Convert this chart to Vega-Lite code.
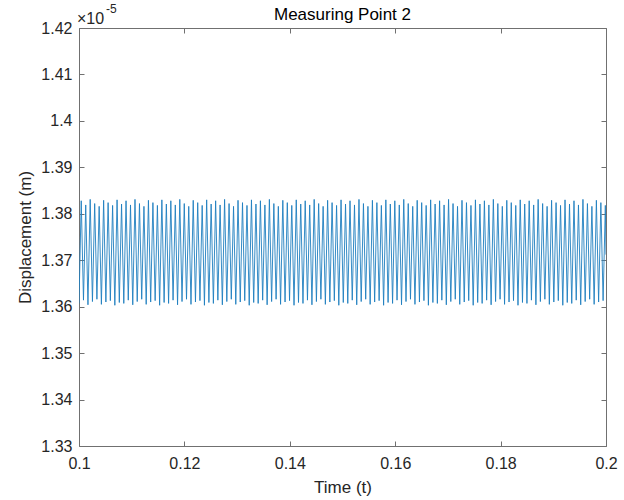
{
"$schema": "https://vega.github.io/schema/vega-lite/v6.json",
"width": 527, "height": 418,
"autosize": "none",
"padding": {"left": 79, "top": 28, "right": 18, "bottom": 54},
"background": "white",
"config": {"view": {"stroke": null}, "font": "Liberation Sans",
  "axis": {"grid": false, "domainColor": "#707070", "tickColor": "#707070", "labelColor": "#262626", "titleColor": "#262626", "labelFont": "Liberation Sans", "titleFont": "Liberation Sans", "labelFontSize": 16, "titleFontSize": 17, "titleFontWeight": "normal", "tickSize": -5, "domainWidth": 1}},
"title": {"text": "Measuring Point 2", "fontSize": 17, "fontWeight": "normal", "color": "#000000", "font": "Liberation Sans", "offset": -21, "anchor": "middle"},
"datasets": {"w": [
{"t":0.1,"y":1.3607},{"t":0.100425,"y":1.3828},
{"t":0.10085,"y":1.3614},{"t":0.101275,"y":1.3819},
{"t":0.1017,"y":1.3604},{"t":0.102125,"y":1.3831},
{"t":0.10255,"y":1.3611},{"t":0.102975,"y":1.3822},
{"t":0.1034,"y":1.3616},{"t":0.103825,"y":1.3816},
{"t":0.10425,"y":1.3605},{"t":0.104675,"y":1.3829},
{"t":0.1051,"y":1.361},{"t":0.105525,"y":1.3824},
{"t":0.10595,"y":1.3613},{"t":0.106375,"y":1.3818},
{"t":0.1068,"y":1.3603},{"t":0.107225,"y":1.383},
{"t":0.10765,"y":1.3609},{"t":0.108075,"y":1.3821},
{"t":0.1085,"y":1.3607},{"t":0.108925,"y":1.3828},
{"t":0.10935,"y":1.3614},{"t":0.109775,"y":1.3819},
{"t":0.1102,"y":1.3604},{"t":0.110625,"y":1.3831},
{"t":0.11105,"y":1.3611},{"t":0.111475,"y":1.3822},
{"t":0.1119,"y":1.3616},{"t":0.112325,"y":1.3816},
{"t":0.11275,"y":1.3605},{"t":0.113175,"y":1.3829},
{"t":0.1136,"y":1.361},{"t":0.114025,"y":1.3824},
{"t":0.11445,"y":1.3613},{"t":0.114875,"y":1.3818},
{"t":0.1153,"y":1.3603},{"t":0.115725,"y":1.383},
{"t":0.11615,"y":1.3609},{"t":0.116575,"y":1.3821},
{"t":0.117,"y":1.3607},{"t":0.117425,"y":1.3828},
{"t":0.11785,"y":1.3614},{"t":0.118275,"y":1.3819},
{"t":0.1187,"y":1.3604},{"t":0.119125,"y":1.3831},
{"t":0.11955,"y":1.3611},{"t":0.119975,"y":1.3822},
{"t":0.1204,"y":1.3616},{"t":0.120825,"y":1.3816},
{"t":0.12125,"y":1.3605},{"t":0.121675,"y":1.3829},
{"t":0.1221,"y":1.361},{"t":0.122525,"y":1.3824},
{"t":0.12295,"y":1.3613},{"t":0.123375,"y":1.3818},
{"t":0.1238,"y":1.3603},{"t":0.124225,"y":1.383},
{"t":0.12465,"y":1.3609},{"t":0.125075,"y":1.3821},
{"t":0.1255,"y":1.3607},{"t":0.125925,"y":1.3828},
{"t":0.12635,"y":1.3614},{"t":0.126775,"y":1.3819},
{"t":0.1272,"y":1.3604},{"t":0.127625,"y":1.3831},
{"t":0.12805,"y":1.3611},{"t":0.128475,"y":1.3822},
{"t":0.1289,"y":1.3616},{"t":0.129325,"y":1.3816},
{"t":0.12975,"y":1.3605},{"t":0.130175,"y":1.3829},
{"t":0.1306,"y":1.361},{"t":0.131025,"y":1.3824},
{"t":0.13145,"y":1.3613},{"t":0.131875,"y":1.3818},
{"t":0.1323,"y":1.3603},{"t":0.132725,"y":1.383},
{"t":0.13315,"y":1.3609},{"t":0.133575,"y":1.3821},
{"t":0.134,"y":1.3607},{"t":0.134425,"y":1.3828},
{"t":0.13485,"y":1.3614},{"t":0.135275,"y":1.3819},
{"t":0.1357,"y":1.3604},{"t":0.136125,"y":1.3831},
{"t":0.13655,"y":1.3611},{"t":0.136975,"y":1.3822},
{"t":0.1374,"y":1.3616},{"t":0.137825,"y":1.3816},
{"t":0.13825,"y":1.3605},{"t":0.138675,"y":1.3829},
{"t":0.1391,"y":1.361},{"t":0.139525,"y":1.3824},
{"t":0.13995,"y":1.3613},{"t":0.140375,"y":1.3818},
{"t":0.1408,"y":1.3603},{"t":0.141225,"y":1.383},
{"t":0.14165,"y":1.3609},{"t":0.142075,"y":1.3821},
{"t":0.1425,"y":1.3607},{"t":0.142925,"y":1.3828},
{"t":0.14335,"y":1.3614},{"t":0.143775,"y":1.3819},
{"t":0.1442,"y":1.3604},{"t":0.144625,"y":1.3831},
{"t":0.14505,"y":1.3611},{"t":0.145475,"y":1.3822},
{"t":0.1459,"y":1.3616},{"t":0.146325,"y":1.3816},
{"t":0.14675,"y":1.3605},{"t":0.147175,"y":1.3829},
{"t":0.1476,"y":1.361},{"t":0.148025,"y":1.3824},
{"t":0.14845,"y":1.3613},{"t":0.148875,"y":1.3818},
{"t":0.1493,"y":1.3603},{"t":0.149725,"y":1.383},
{"t":0.15015,"y":1.3609},{"t":0.150575,"y":1.3821},
{"t":0.151,"y":1.3607},{"t":0.151425,"y":1.3828},
{"t":0.15185,"y":1.3614},{"t":0.152275,"y":1.3819},
{"t":0.1527,"y":1.3604},{"t":0.153125,"y":1.3831},
{"t":0.15355,"y":1.3611},{"t":0.153975,"y":1.3822},
{"t":0.1544,"y":1.3616},{"t":0.154825,"y":1.3816},
{"t":0.15525,"y":1.3605},{"t":0.155675,"y":1.3829},
{"t":0.1561,"y":1.361},{"t":0.156525,"y":1.3824},
{"t":0.15695,"y":1.3613},{"t":0.157375,"y":1.3818},
{"t":0.1578,"y":1.3603},{"t":0.158225,"y":1.383},
{"t":0.15865,"y":1.3609},{"t":0.159075,"y":1.3821},
{"t":0.1595,"y":1.3607},{"t":0.159925,"y":1.3828},
{"t":0.16035,"y":1.3614},{"t":0.160775,"y":1.3819},
{"t":0.1612,"y":1.3604},{"t":0.161625,"y":1.3831},
{"t":0.16205,"y":1.3611},{"t":0.162475,"y":1.3822},
{"t":0.1629,"y":1.3616},{"t":0.163325,"y":1.3816},
{"t":0.16375,"y":1.3605},{"t":0.164175,"y":1.3829},
{"t":0.1646,"y":1.361},{"t":0.165025,"y":1.3824},
{"t":0.16545,"y":1.3613},{"t":0.165875,"y":1.3818},
{"t":0.1663,"y":1.3603},{"t":0.166725,"y":1.383},
{"t":0.16715,"y":1.3609},{"t":0.167575,"y":1.3821},
{"t":0.168,"y":1.3607},{"t":0.168425,"y":1.3828},
{"t":0.16885,"y":1.3614},{"t":0.169275,"y":1.3819},
{"t":0.1697,"y":1.3604},{"t":0.170125,"y":1.3831},
{"t":0.17055,"y":1.3611},{"t":0.170975,"y":1.3822},
{"t":0.1714,"y":1.3616},{"t":0.171825,"y":1.3816},
{"t":0.17225,"y":1.3605},{"t":0.172675,"y":1.3829},
{"t":0.1731,"y":1.361},{"t":0.173525,"y":1.3824},
{"t":0.17395,"y":1.3613},{"t":0.174375,"y":1.3818},
{"t":0.1748,"y":1.3603},{"t":0.175225,"y":1.383},
{"t":0.17565,"y":1.3609},{"t":0.176075,"y":1.3821},
{"t":0.1765,"y":1.3607},{"t":0.176925,"y":1.3828},
{"t":0.17735,"y":1.3614},{"t":0.177775,"y":1.3819},
{"t":0.1782,"y":1.3604},{"t":0.178625,"y":1.3831},
{"t":0.17905,"y":1.3611},{"t":0.179475,"y":1.3822},
{"t":0.1799,"y":1.3616},{"t":0.180325,"y":1.3816},
{"t":0.18075,"y":1.3605},{"t":0.181175,"y":1.3829},
{"t":0.1816,"y":1.361},{"t":0.182025,"y":1.3824},
{"t":0.18245,"y":1.3613},{"t":0.182875,"y":1.3818},
{"t":0.1833,"y":1.3603},{"t":0.183725,"y":1.383},
{"t":0.18415,"y":1.3609},{"t":0.184575,"y":1.3821},
{"t":0.185,"y":1.3607},{"t":0.185425,"y":1.3828},
{"t":0.18585,"y":1.3614},{"t":0.186275,"y":1.3819},
{"t":0.1867,"y":1.3604},{"t":0.187125,"y":1.3831},
{"t":0.18755,"y":1.3611},{"t":0.187975,"y":1.3822},
{"t":0.1884,"y":1.3616},{"t":0.188825,"y":1.3816},
{"t":0.18925,"y":1.3605},{"t":0.189675,"y":1.3829},
{"t":0.1901,"y":1.361},{"t":0.190525,"y":1.3824},
{"t":0.19095,"y":1.3613},{"t":0.191375,"y":1.3818},
{"t":0.1918,"y":1.3603},{"t":0.192225,"y":1.383},
{"t":0.19265,"y":1.3609},{"t":0.193075,"y":1.3821},
{"t":0.1935,"y":1.3607},{"t":0.193925,"y":1.3828},
{"t":0.19435,"y":1.3614},{"t":0.194775,"y":1.3819},
{"t":0.1952,"y":1.3604},{"t":0.195625,"y":1.3831},
{"t":0.19605,"y":1.3611},{"t":0.196475,"y":1.3822},
{"t":0.1969,"y":1.3616},{"t":0.197325,"y":1.3816},
{"t":0.19775,"y":1.3605},{"t":0.198175,"y":1.3829},
{"t":0.1986,"y":1.361},{"t":0.199025,"y":1.3824},
{"t":0.19945,"y":1.3613},{"t":0.199875,"y":1.3818},
{"t":0.2,"y":1.3712}
]},
"data": {"name": "w"},
"layer": [
 {"mark": {"type": "line", "color": "#1f7fc0", "strokeWidth": 0.9, "clip": true},
  "encoding": {
   "x": {"field": "t", "type": "quantitative", "scale": {"domain": [0.1, 0.2], "nice": false, "zero": false},
     "axis": {"orient": "bottom", "title": "Time (t)", "values": [0.1,0.12,0.14,0.16,0.18,0.2], "format": "~g", "labelPadding": 14, "titleY": 41, "titleBaseline": "middle", "labelFlush": false}},
   "y": {"field": "y", "type": "quantitative", "scale": {"domain": [1.33, 1.42], "nice": false, "zero": false},
     "axis": {"orient": "left", "title": "Displacement (m)", "values": [1.33,1.34,1.35,1.36,1.37,1.38,1.39,1.4,1.41,1.42], "format": ".3~f", "labelPadding": 12, "titleX": -54, "titleBaseline": "middle", "labelFlush": false}}
  }},
 {"mark": {"type": "line", "opacity": 0},
  "encoding": {
   "x": {"field": "t", "type": "quantitative", "axis": {"orient": "top", "title": null, "labels": false, "values": [0.1,0.12,0.14,0.16,0.18,0.2]}},
   "y": {"field": "y", "type": "quantitative", "axis": {"orient": "right", "title": null, "labels": false, "values": [1.33,1.34,1.35,1.36,1.37,1.38,1.39,1.4,1.41,1.42]}}
  }},
 {"data": {"values": [{"s": "×10"}]},
  "mark": {"type": "text", "align": "left", "baseline": "alphabetic", "fontSize": 16, "color": "#262626", "dx": -2, "dy": -4},
  "encoding": {"x": {"datum": 0.1, "type": "quantitative", "axis": null}, "y": {"datum": 1.42, "type": "quantitative", "axis": null}, "text": {"field": "s"}}},
 {"data": {"values": [{"s": "-5"}]},
  "mark": {"type": "text", "align": "left", "baseline": "alphabetic", "fontSize": 12, "color": "#262626", "dx": 27, "dy": -15},
  "encoding": {"x": {"datum": 0.1, "type": "quantitative", "axis": null}, "y": {"datum": 1.42, "type": "quantitative", "axis": null}, "text": {"field": "s"}}}
],
"resolve": {"axis": {"x": "independent", "y": "independent"}}
}
